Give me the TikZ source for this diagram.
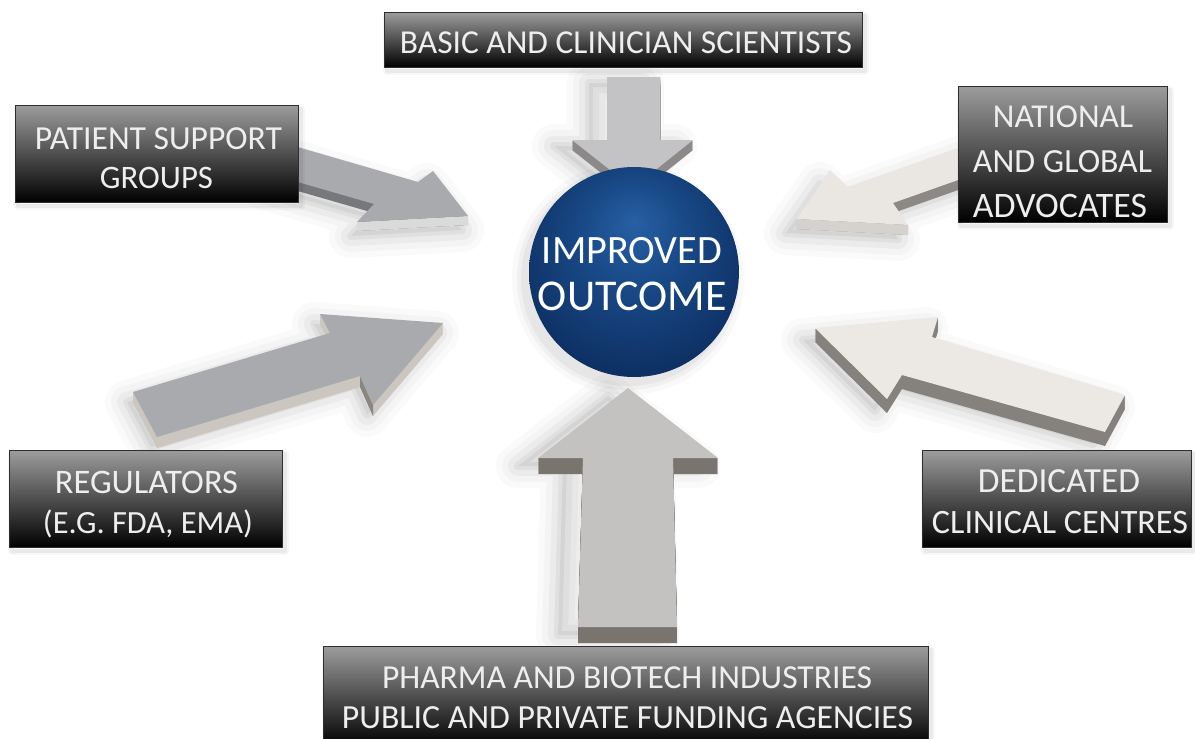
\documentclass[tikz,border=0pt]{standalone}
\usepackage{fontspec}
\setmainfont{Carlito}
\definecolor{sphA}{HTML}{2760A4}
\definecolor{sphB}{HTML}{194A88}
\definecolor{sphC}{HTML}{0C2C5E}
\definecolor{sphD}{HTML}{041331}
\definecolor{sphE}{HTML}{0B2550}
\pgfdeclareradialshading{spheresh}{\pgfpoint{0bp}{12bp}}{color(0bp)=(sphA); color(12bp)=(sphB); color(32bp)=(sphC); color(46bp)=(sphD); color(50bp)=(sphE)}
\definecolor{boxtop}{HTML}{9C9C9C}
\definecolor{boxmid}{HTML}{4E4E4E}
\definecolor{boxline}{HTML}{2E2E2E}
\definecolor{txtc}{HTML}{EEEEEE}
\definecolor{faceA}{HTML}{C3C3C5}
\definecolor{sideA}{HTML}{8C8A88}
\definecolor{faceB}{HTML}{C4C2C1}
\definecolor{sideB}{HTML}{7A746E}
\definecolor{faceP}{HTML}{A9AAAE}
\definecolor{sideP}{HTML}{77787B}
\definecolor{sidePl}{HTML}{DADAD8}
\definecolor{faceN}{HTML}{EAE7E3}
\definecolor{sideN}{HTML}{8B8886}
\definecolor{sideNl}{HTML}{D5D2CD}
\definecolor{faceR}{HTML}{A8AAAD}
\definecolor{sideR}{HTML}{CBC6BF}
\definecolor{sideRd}{HTML}{8A857F}
\definecolor{faceD}{HTML}{ECE9E5}
\definecolor{sideD}{HTML}{85817D}
\newcommand\softshadow[3]{%
  \begin{scope}[shift={(#2,#3)}]
    \foreach \w/\o in {44/0.02,32/0.025,20/0.035,8/0.045}{\draw[line width=\w pt, line join=round, black, opacity=\o] #1;}
    \fill[black, opacity=0.05] #1;
  \end{scope}}
\newcommand\extrude[3]{%
  \foreach \k in {#3,...,1}{\fill[#2, yshift=-\k pt] #1;}}
\newcommand\fitw[2]{\resizebox{#1pt}{!}{#2}}
\tikzset{
  gbox/.style={draw=boxline, line width=0.8pt, top color=boxtop, bottom color=black, middle color=boxmid, inner sep=0pt, anchor=north west},
  lbl/.style={anchor=base, inner sep=0pt, text=txtc},
  slbl/.style={anchor=base, inner sep=0pt, text=white}
}
\def\arrTop{(607,77) -- (660,77) -- (660,140) -- (693,140) -- (633,188) -- (572,140) -- (607,140) -- cycle}
\def\arrBot{(628,388) -- (718,458) -- (673,458) -- (677,627) -- (578,627) -- (583,458) -- (538,458) -- cycle}
\def\arrPat{(270,139) -- (418,182) -- (433,171) -- (468,216) -- (357,222) -- (374,204) -- (270,174) -- cycle}
\def\arrNat{(975,142) -- (848,187) -- (830,170) -- (796,219) -- (908,225) -- (893,203) -- (975,174) -- cycle}
\def\arrReg{(133,392) -- (330,333) -- (320,314) -- (443,323) -- (373,405) -- (360,376) -- (157,437) -- cycle}
\def\arrDed{(815,328) -- (938,317) -- (932,337) -- (1125,395) -- (1105,432) -- (902,375) -- (887,399) -- cycle}
\begin{document}
\begin{tikzpicture}[x=1pt,y=-1pt]
\useasboundingbox (0,0) rectangle (1195,739);
\fill[white] (0,0) rectangle (1195,739);
% shadows
\softshadow{\arrTop}{-18}{6}
\softshadow{\arrBot}{-20}{8}
\softshadow{\arrPat}{-6}{14}
\softshadow{\arrNat}{-10}{14}
\softshadow{\arrReg}{-6}{10}
\softshadow{\arrDed}{-12}{12}
\foreach \r/\o in {116/0.025,111/0.035,107/0.04}{\fill[black, opacity=\o] (628,279) circle (\r pt);}
% arrows
\extrude{\arrTop}{sideA}{10}
\fill[faceA] \arrTop;
\extrude{\arrBot}{sideB}{16}
\fill[faceB] \arrBot;
\extrude{\arrPat}{sideP}{9}
\fill[sidePl] (357,222) -- (468,216) -- (468,225) -- (357,231) -- cycle;
\fill[faceP] \arrPat;
\extrude{\arrNat}{sideN}{10}
\fill[sideNl] (796,219) -- (908,225) -- (908,235) -- (796,229) -- cycle;
\fill[faceN] \arrNat;
\extrude{\arrReg}{sideR}{11}
\fill[sideRd] (360,376) -- (373,405) -- (373,416) -- (360,387) -- cycle;
\fill[faceR] \arrReg;
\extrude{\arrDed}{sideD}{14}
\fill[faceD] \arrDed;
% sphere
\node[circle, minimum size=210pt, inner sep=0pt, shading=spheresh] (sph) at (634,272) {};
\node[slbl] (sph1) at (632,263) {\fitw{180}{IMPROVED}};
\node[slbl] (sph2) at (632.5,310) {\fitw{189}{OUTCOME}};
% box shadows
\foreach \x/\y/\w/\h in {384/12/478/55, 15/105/283/97, 958/86/209/136, 9/450/273/97, 922/450/269/97, 323/646/605/100}{
  \foreach \lw/\o in {8/0.03,4/0.05}{\draw[black, opacity=\o, line width=\lw pt, line join=round] (\x+3,\y+4) rectangle ++(\w,\h);}
}
% boxes
\node[gbox, minimum width=478pt, minimum height=55pt] (btop) at (384,12) {};
\node[gbox, minimum width=283pt, minimum height=97pt] (bpat) at (15,105) {};
\node[gbox, minimum width=209pt, minimum height=136pt] (bnat) at (958,86) {};
\node[gbox, minimum width=273pt, minimum height=97pt] (breg) at (9,450) {};
\node[gbox, minimum width=269pt, minimum height=97pt] (bded) at (922,450) {};
\node[gbox, minimum width=605pt, minimum height=100pt] (bbot) at (323,646) {};
% labels
\node[lbl] (ttop) at (626,53) {\fitw{452}{BASIC AND CLINICIAN SCIENTISTS}};
\node[lbl] (tpat1) at (158.5,149) {\fitw{247}{PATIENT SUPPORT}};
\node[lbl] (tpat2) at (156.5,188) {\fitw{113}{GROUPS}};
\node[lbl] (tnat1) at (1063,127) {\fitw{140}{NATIONAL}};
\node[lbl] (tnat2) at (1062.5,172) {\fitw{179}{AND GLOBAL}};
\node[lbl] (tnat3) at (1060,217) {\fitw{174}{ADVOCATES}};
\node[lbl] (treg1) at (146.5,493) {\fitw{183}{REGULATORS}};
\node[lbl] (treg2) at (148,533) {\fitw{210}{(E.G. FDA, EMA)}};
\node[lbl] (tded1) at (1059,492) {\fitw{162}{DEDICATED}};
\node[lbl] (tded2) at (1060,533) {\fitw{256}{CLINICAL CENTRES}};
\node[lbl] (tbot1) at (627,688) {\fitw{490}{PHARMA AND BIOTECH INDUSTRIES}};
\node[lbl] (tbot2) at (627.5,728) {\fitw{571}{PUBLIC AND PRIVATE FUNDING AGENCIES}};
\end{tikzpicture}
\end{document}
